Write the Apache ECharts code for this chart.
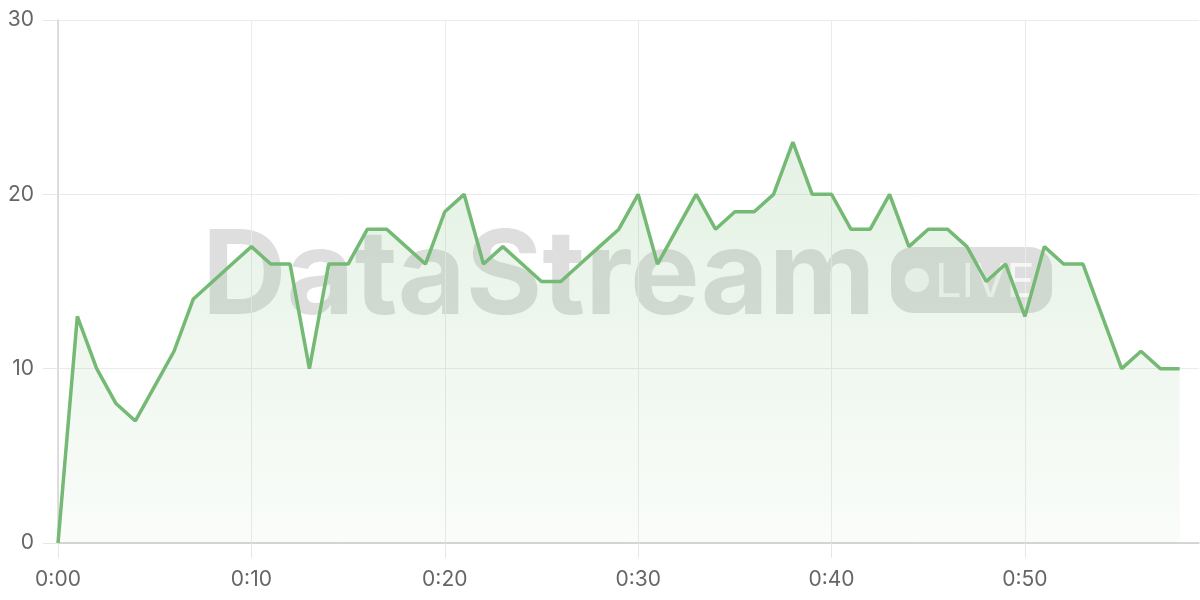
<!DOCTYPE html>
<html>
<head>
<meta charset="utf-8">
<script src="https://cdn.jsdelivr.net/npm/echarts@6/dist/echarts.min.js"></script>
<style>html,body{margin:0;padding:0;background:#fff}#c{width:1200px;height:600px}</style>
</head>
<body>
<div id="c"></div>
<script>
// minutes 0:00 .. 0:59 (last slot empty, axis extends one minute beyond data)
const categories = Array.from({length: 60}, (_, i) => '0:' + String(i).padStart(2, '0'));
const values = [0, 13, 10, 8, 7, 9, 11, 14, 15, 16,
                17, 16, 16, 10, 16, 16, 18, 18, 17, 16,
                19, 20, 16, 17, 16, 15, 15, 16, 17, 18,
                20, 16, 18, 20, 18, 19, 19, 20, 23, 20,
                20, 18, 18, 20, 17, 18, 18, 17, 15, 16,
                13, 17, 16, 16, 13, 10, 11, 10, 10];
const yTicks = [0, 10, 20, 30];

const chart = echarts.init(document.getElementById('c'));
const font = 'Inter, "Noto Sans", sans-serif';
chart.setOption({
  animation: false,
  grid: { left: 58, right: 1, top: 20, bottom: 57, containLabel: false },
  graphic: [
    { type: 'text', z: 0,
      style: { x: 202, y: 220, text: 'DataStream', verticalAlign: 'top', align: 'left',
               font: 'bold 117px Inter', fill: 'rgba(0,0,0,0.13)' } },
    { type: 'rect', z: 0, shape: { x: 891, y: 247, width: 161, height: 66, r: 22 },
      style: { fill: 'rgba(0,0,0,0.13)' } },
    { type: 'circle', z: 1, shape: { cx: 917, cy: 280, r: 12 },
      style: { fill: 'rgba(255,255,255,0.75)' } },
    { type: 'text', z: 1,
      style: { x: 935, y: 259, text: 'LIVE', verticalAlign: 'top', align: 'left',
               font: '47px Inter', fill: 'rgba(255,255,255,0.7)' } }
  ],
  xAxis: {
    type: 'category',
    data: categories,
    boundaryGap: false,
    axisLine: { lineStyle: { color: '#cccccc', width: 1.5 } },
    axisTick: { show: true, interval: 9, length: 15, lineStyle: { color: '#e6e6e6' } },
    axisLabel: { interval: 9, margin: 26, color: '#666', fontSize: 21, fontFamily: font },
    splitLine: { show: true, interval: 9, lineStyle: { color: '#ebebeb', width: 1 } }
  },
  yAxis: {
    type: 'value',
    min: yTicks[0], max: yTicks[yTicks.length - 1], interval: 10,
    axisLine: { show: true, lineStyle: { color: '#d4d4d4', width: 1.5 } },
    axisTick: { show: true, length: 15, lineStyle: { color: '#e6e6e6' } },
    axisLabel: { margin: 24, color: '#666', fontSize: 21, fontFamily: font },
    splitLine: { lineStyle: { color: '#ebebeb', width: 1 } }
  },
  series: [{
    type: 'line',
    data: values,
    symbol: 'none',
    smooth: false,
    lineStyle: { color: '#74b974', width: 3.5 },
    itemStyle: { color: '#74b974' },
    areaStyle: {
      color: {
        type: 'linear', x: 0, y: 0, x2: 0, y2: 1,
        colorStops: [
          { offset: 0, color: 'rgba(118,186,118,0.28)' },
          { offset: 1, color: 'rgba(118,186,118,0.06)' }
        ]
      }
    }
  }]
});
</script>
</body>
</html>
